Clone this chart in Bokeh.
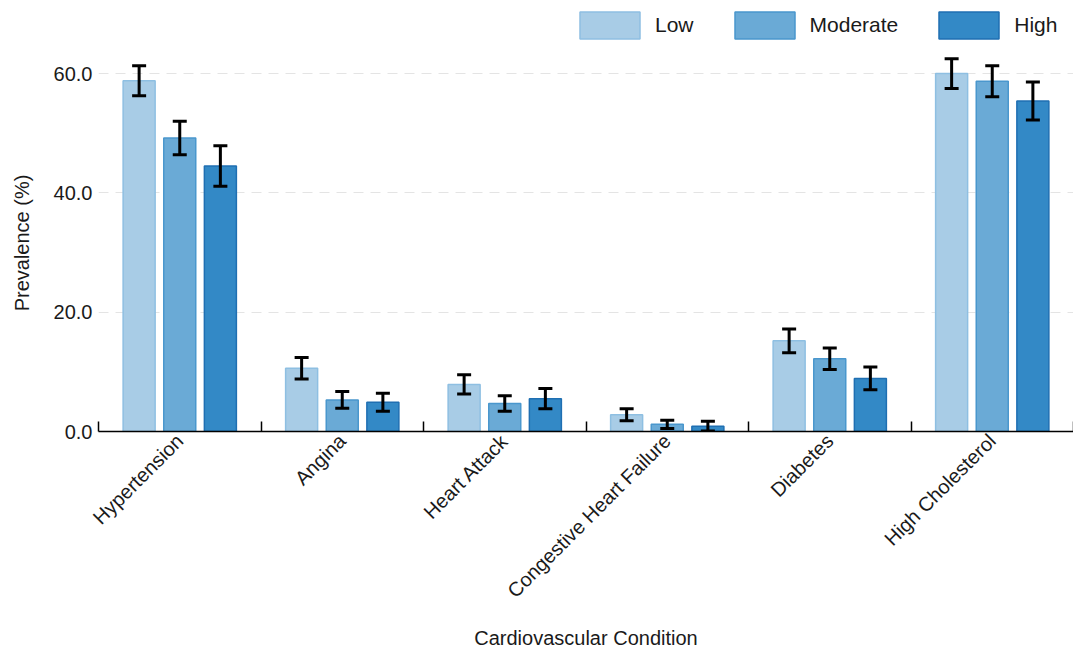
import math

from bokeh.embed import file_html
from bokeh.layouts import column
from bokeh.models import (ColumnDataSource, FixedTicker, Legend, LegendItem,
                          PrintfTickFormatter, Range1d, TeeHead, Whisker)
from bokeh.plotting import figure
from bokeh.resources import INLINE

# Prevalence (%) of cardiovascular conditions by activity level
conditions = ["Hypertension", "Angina", "Heart Attack",
              "Congestive Heart Failure", "Diabetes", "High Cholesterol"]
levels = ["Low", "Moderate", "High"]

low = [58.8, 10.6, 7.9, 2.8, 15.2, 60.0]
low_err = [2.5, 1.8, 1.6, 1.0, 2.0, 2.5]
moderate = [49.2, 5.3, 4.7, 1.2, 12.2, 58.7]
moderate_err = [2.8, 1.4, 1.3, 0.7, 1.8, 2.6]
high = [44.5, 4.9, 5.5, 0.9, 8.9, 55.4]
high_err = [3.4, 1.5, 1.7, 0.8, 1.9, 3.2]

y_ticks = [0, 20, 40, 60]

FONT = "Liberation Sans"
TEXT = "#1a1a1a"

fills = ["#a8cce6", "#6aaad6", "#3389c6"]
edges = ["#8ebfe2", "#4a97cd", "#1f6fb2"]
offsets = [-0.25, 0.0, 0.25]
bar_width = 0.197

p = figure(frame_width=975, frame_height=377,
           output_backend="svg", toolbar_location=None,
           x_range=Range1d(0, len(conditions)), y_range=Range1d(0, 63.2),
           min_border_left=98, min_border_right=0, min_border_top=0,
           min_border_bottom=219)
p.outline_line_color = None
p.background_fill_color = "white"
p.border_fill_color = "white"

series = [(low, low_err), (moderate, moderate_err), (high, high_err)]
for (vals, errs), fc, lc, off in zip(series, fills, edges, offsets):
    xs = [i + 0.5 + off for i in range(len(conditions))]
    src = ColumnDataSource(dict(
        x=xs, top=vals,
        upper=[v + e for v, e in zip(vals, errs)],
        lower=[v - e for v, e in zip(vals, errs)],
    ))
    p.vbar(x="x", top="top", width=bar_width, source=src,
           fill_color=fc, line_color=lc, line_width=1.5)
    w = Whisker(base="x", upper="upper", lower="lower", source=src,
                line_color="black", line_width=3, level="annotation",
                upper_head=TeeHead(size=14, line_width=3, line_color="black"),
                lower_head=TeeHead(size=14, line_width=3, line_color="black"))
    p.add_layout(w)

# x axis: labels at group centres, short ticks at group boundaries
centres = [i + 0.5 for i in range(len(conditions))]
bounds = list(range(len(conditions) + 1))
xa = p.xaxis[0]
xa.ticker = FixedTicker(ticks=centres, minor_ticks=bounds)
xa.major_label_overrides = {c: name for c, name in zip(centres, conditions)}
xa.major_label_orientation = math.pi / 4
xa.major_tick_in = 0
xa.major_tick_out = 0
xa.major_tick_line_color = None
xa.minor_tick_in = 10
xa.minor_tick_out = 0
xa.minor_tick_line_color = "black"
xa.minor_tick_line_width = 1.5
xa.axis_line_color = "black"
xa.axis_line_width = 1.5
xa.major_label_text_font = FONT
xa.major_label_text_font_size = "20px"
xa.major_label_text_color = TEXT
xa.major_label_standoff = 6
xa.axis_label = "Cardiovascular Condition"
xa.axis_label_text_font = FONT
xa.axis_label_text_font_size = "20px"
xa.axis_label_text_font_style = "normal"
xa.axis_label_text_color = TEXT
xa.axis_label_standoff = 15

ya = p.yaxis[0]
ya.ticker = FixedTicker(ticks=y_ticks)
ya.formatter = PrintfTickFormatter(format="%.1f")
ya.axis_line_color = None
ya.major_tick_line_color = None
ya.minor_tick_line_color = None
ya.major_tick_in = 0
ya.major_tick_out = 0
ya.major_label_standoff = 6
ya.major_label_text_font = FONT
ya.major_label_text_font_size = "20px"
ya.major_label_text_color = TEXT
ya.axis_label = "Prevalence (%)"
ya.axis_label_text_font = FONT
ya.axis_label_text_font_size = "20px"
ya.axis_label_text_font_style = "normal"
ya.axis_label_text_color = TEXT
ya.axis_label_standoff = 18

p.xgrid.grid_line_color = None
p.ygrid.grid_line_color = "#e4e4e4"
p.ygrid.grid_line_dash = "10 7"
p.ygrid.grid_line_width = 1

# legend strip above the chart; the key renderers hold a NaN bar so that
# only their legend swatches are drawn
key = figure(width=1073, height=54, output_backend="svg", toolbar_location=None,
             x_range=Range1d(0, 1), y_range=Range1d(0, 1),
             x_axis_type=None, y_axis_type=None,
             min_border_left=0, min_border_right=0,
             min_border_top=0, min_border_bottom=0)
key.outline_line_color = None
key.xgrid.visible = False
key.ygrid.visible = False
items = []
nan = float("nan")
for name, fc, lc in zip(levels, fills, edges):
    r = key.vbar(x=[nan], bottom=[nan], top=[nan], width=0.1,
                 fill_color=fc, line_color=lc, line_width=1.5)
    items.append(LegendItem(label=name, renderers=[r]))
legend = Legend(items=items, orientation="horizontal", location=(474, 12),
                glyph_width=75, glyph_height=34, label_standoff=8,
                spacing=33, padding=7, margin=0,
                border_line_color=None, background_fill_alpha=0,
                label_text_font=FONT, label_text_font_size="21px",
                label_text_color=TEXT)
key.add_layout(legend, "center")

layout = column(key, p, spacing=0)
open("out.html", "w").write(file_html(layout, INLINE))
